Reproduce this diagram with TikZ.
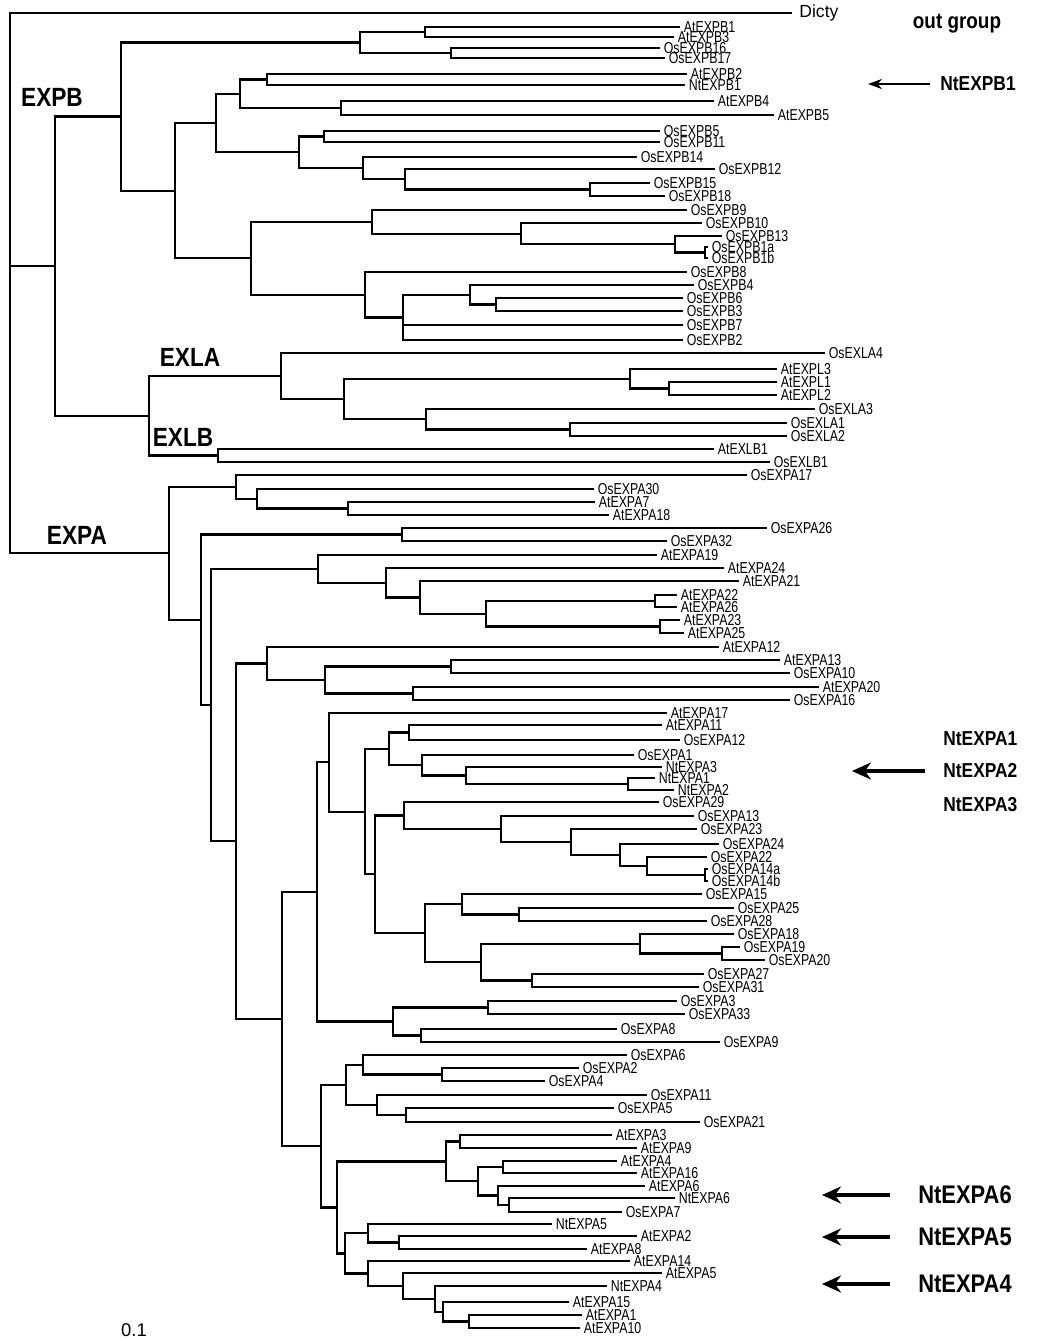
\documentclass[tikz,border=0pt]{standalone}
\usepackage{fontspec}
\setmainfont{Liberation Sans}
\newfontfamily\leaffont{Liberation Sans}[FakeStretch=0.78]
\newfontfamily\tagfont{Liberation Sans}[FakeStretch=0.86]
\usepackage{tikz}
\usetikzlibrary{arrows.meta}

\begin{document}
\begin{tikzpicture}[x=0.02cm, y=-0.02cm,
  br/.style={line width=1.25pt},
  leaf/.style={anchor=west, inner xsep=2pt, inner ysep=0pt, font={\leaffont\fontsize{9}{9}\selectfont}},
  clade/.style={inner sep=0pt, font={\tagfont\bfseries\fontsize{15}{17}\selectfont}},
  tag/.style={anchor=west, inner sep=0pt, font={\tagfont\bfseries\fontsize{11.5}{13}\selectfont}},
  bigtag/.style={anchor=west, inner sep=0pt, font={\tagfont\bfseries\fontsize{14.5}{16}\selectfont}},
  pointer/.style={line width=2.8pt, -{Stealth[length=0.38cm, width=0.34cm]}},
  thinpointer/.style={line width=1.4pt, -{Stealth[length=0.28cm, width=0.2cm]}}]
\useasboundingbox (0,0) rectangle (1051,1340);

% leaves
\node[leaf, font={\fontsize{10}{11}\selectfont}, inner xsep=4pt] (Dicty) at (792,13) {Dicty};
\node[leaf] (AtEXPB1) at (680,27) {AtEXPB1};
\node[leaf] (AtEXPB3) at (674,37) {AtEXPB3};
\node[leaf] (OsEXPB16) at (660,48) {OsEXPB16};
\node[leaf] (OsEXPB17) at (665,58) {OsEXPB17};
\node[leaf] (AtEXPB2) at (687,74) {AtEXPB2};
\node[leaf] (NtEXPB1) at (685,85) {NtEXPB1};
\node[leaf] (AtEXPB4) at (714,101) {AtEXPB4};
\node[leaf] (AtEXPB5) at (774,115) {AtEXPB5};
\node[leaf] (OsEXPB5) at (660,131) {OsEXPB5};
\node[leaf] (OsEXPB11) at (660,142) {OsEXPB11};
\node[leaf] (OsEXPB14) at (637,157) {OsEXPB14};
\node[leaf] (OsEXPB12) at (715,169) {OsEXPB12};
\node[leaf] (OsEXPB15) at (650,183) {OsEXPB15};
\node[leaf] (OsEXPB18) at (665,196) {OsEXPB18};
\node[leaf] (OsEXPB9) at (687,210) {OsEXPB9};
\node[leaf] (OsEXPB10) at (702,223) {OsEXPB10};
\node[leaf] (OsEXPB13) at (722,236) {OsEXPB13};
\node[leaf] (OsEXPB1a) at (708,247) {OsEXPB1a};
\node[leaf] (OsEXPB1b) at (708,258) {OsEXPB1b};
\node[leaf] (OsEXPB8) at (687,272) {OsEXPB8};
\node[leaf] (OsEXPB4) at (694,285) {OsEXPB4};
\node[leaf] (OsEXPB6) at (683,298) {OsEXPB6};
\node[leaf] (OsEXPB3) at (683,311) {OsEXPB3};
\node[leaf] (OsEXPB7) at (683,325) {OsEXPB7};
\node[leaf] (OsEXPB2) at (683,340) {OsEXPB2};
\node[leaf] (OsEXLA4) at (825,353) {OsEXLA4};
\node[leaf] (AtEXPL3) at (777,369) {AtEXPL3};
\node[leaf] (AtEXPL1) at (777,382) {AtEXPL1};
\node[leaf] (AtEXPL2) at (777,395) {AtEXPL2};
\node[leaf] (OsEXLA3) at (815,409) {OsEXLA3};
\node[leaf] (OsEXLA1) at (787,423) {OsEXLA1};
\node[leaf] (OsEXLA2) at (787,436) {OsEXLA2};
\node[leaf] (AtEXLB1) at (714,449) {AtEXLB1};
\node[leaf] (OsEXLB1) at (770,462) {OsEXLB1};
\node[leaf] (OsEXPA17) at (747,475) {OsEXPA17};
\node[leaf] (OsEXPA30) at (594,489) {OsEXPA30};
\node[leaf] (AtEXPA7) at (595,502) {AtEXPA7};
\node[leaf] (AtEXPA18) at (609,515) {AtEXPA18};
\node[leaf] (OsEXPA26) at (767,528) {OsEXPA26};
\node[leaf] (OsEXPA32) at (667,541) {OsEXPA32};
\node[leaf] (AtEXPA19) at (657,555) {AtEXPA19};
\node[leaf] (AtEXPA24) at (724,568) {AtEXPA24};
\node[leaf] (AtEXPA21) at (739,581) {AtEXPA21};
\node[leaf] (AtEXPA22) at (677,595) {AtEXPA22};
\node[leaf] (AtEXPA26) at (677,607) {AtEXPA26};
\node[leaf] (AtEXPA23) at (680,620) {AtEXPA23};
\node[leaf] (AtEXPA25) at (684,633) {AtEXPA25};
\node[leaf] (AtEXPA12) at (719,647) {AtEXPA12};
\node[leaf] (AtEXPA13) at (780,660) {AtEXPA13};
\node[leaf] (OsEXPA10) at (790,673) {OsEXPA10};
\node[leaf] (AtEXPA20) at (819,687) {AtEXPA20};
\node[leaf] (OsEXPA16) at (790,700) {OsEXPA16};
\node[leaf] (AtEXPA17) at (667,713) {AtEXPA17};
\node[leaf] (AtEXPA11) at (662,725) {AtEXPA11};
\node[leaf] (OsEXPA12) at (680,740) {OsEXPA12};
\node[leaf] (OsEXPA1) at (634,755) {OsEXPA1};
\node[leaf] (NtEXPA3) at (662,767) {NtEXPA3};
\node[leaf] (NtEXPA1) at (655,778) {NtEXPA1};
\node[leaf] (NtEXPA2) at (674,790) {NtEXPA2};
\node[leaf] (OsEXPA29) at (659,802) {OsEXPA29};
\node[leaf] (OsEXPA13) at (694,816) {OsEXPA13};
\node[leaf] (OsEXPA23) at (697,829) {OsEXPA23};
\node[leaf] (OsEXPA24) at (719,844) {OsEXPA24};
\node[leaf] (OsEXPA22) at (707,857) {OsEXPA22};
\node[leaf] (OsEXPA14a) at (708,869) {OsEXPA14a};
\node[leaf] (OsEXPA14b) at (708,881) {OsEXPA14b};
\node[leaf] (OsEXPA15) at (702,894) {OsEXPA15};
\node[leaf] (OsEXPA25) at (734,908) {OsEXPA25};
\node[leaf] (OsEXPA28) at (707,921) {OsEXPA28};
\node[leaf] (OsEXPA18) at (734,934) {OsEXPA18};
\node[leaf] (OsEXPA19) at (740,947) {OsEXPA19};
\node[leaf] (OsEXPA20) at (765,960) {OsEXPA20};
\node[leaf] (OsEXPA27) at (704,974) {OsEXPA27};
\node[leaf] (OsEXPA31) at (699,987) {OsEXPA31};
\node[leaf] (OsEXPA3) at (677,1001) {OsEXPA3};
\node[leaf] (OsEXPA33) at (685,1014) {OsEXPA33};
\node[leaf] (OsEXPA8) at (617,1029) {OsEXPA8};
\node[leaf] (OsEXPA9) at (720,1042) {OsEXPA9};
\node[leaf] (OsEXPA6) at (627,1055) {OsEXPA6};
\node[leaf] (OsEXPA2) at (579,1068) {OsEXPA2};
\node[leaf] (OsEXPA4) at (545,1081) {OsEXPA4};
\node[leaf] (OsEXPA11) at (647,1095) {OsEXPA11};
\node[leaf] (OsEXPA5) at (614,1108) {OsEXPA5};
\node[leaf] (OsEXPA21) at (700,1122) {OsEXPA21};
\node[leaf] (AtEXPA3) at (612,1135) {AtEXPA3};
\node[leaf] (AtEXPA9) at (637,1148) {AtEXPA9};
\node[leaf] (AtEXPA4) at (617,1161) {AtEXPA4};
\node[leaf] (AtEXPA16) at (637,1173) {AtEXPA16};
\node[leaf] (AtEXPA6) at (645,1186) {AtEXPA6};
\node[leaf] (NtEXPA6) at (675,1198) {NtEXPA6};
\node[leaf] (OsEXPA7) at (622,1212) {OsEXPA7};
\node[leaf] (NtEXPA5) at (552,1224) {NtEXPA5};
\node[leaf] (AtEXPA2) at (637,1236) {AtEXPA2};
\node[leaf] (AtEXPA8) at (587,1249) {AtEXPA8};
\node[leaf] (AtEXPA14) at (630,1261) {AtEXPA14};
\node[leaf] (AtEXPA5) at (662,1273) {AtEXPA5};
\node[leaf] (NtEXPA4) at (607,1286) {NtEXPA4};
\node[leaf] (AtEXPA15) at (569,1302) {AtEXPA15};
\node[leaf] (AtEXPA1) at (582,1315) {AtEXPA1};
\node[leaf] (AtEXPA10) at (580,1328) {AtEXPA10};

% branch points
\coordinate (root) at (10,283);
\coordinate (n55) at (55,266);
\coordinate (n121) at (121,116.5);
\coordinate (n360) at (360,42.5);
\coordinate (n425) at (425,32);
\coordinate (n451) at (451,53);
\coordinate (n175) at (175,190.6);
\coordinate (n216) at (216,123);
\coordinate (n240) at (240,93.75);
\coordinate (n267) at (267,79.5);
\coordinate (n341) at (341,108);
\coordinate (n299) at (299,152.3);
\coordinate (n324) at (324,136.5);
\coordinate (n363) at (363,168.1);
\coordinate (n405) at (405,179.25);
\coordinate (n590) at (590,189.5);
\coordinate (n251) at (251,258.2);
\coordinate (n372) at (372,221.8);
\coordinate (n521) at (521,233.6);
\coordinate (n675) at (675,244.25);
\coordinate (n705) at (705,252.5);
\coordinate (n365) at (365,294.7);
\coordinate (n403) at (403,317.4);
\coordinate (n470) at (470,294.75);
\coordinate (n496) at (496,304.5);
\coordinate (n149) at (149,415.75);
\coordinate (n281) at (281,376);
\coordinate (n344) at (344,399);
\coordinate (n630) at (630,378.75);
\coordinate (n669) at (669,388.5);
\coordinate (n426) at (426,419.25);
\coordinate (n570) at (570,429.5);
\coordinate (n218) at (218,455.5);
\coordinate (n169) at (169,553.3);
\coordinate (n236a) at (236,486.9);
\coordinate (n257) at (257,498.75);
\coordinate (n348) at (348,508.5);
\coordinate (n201) at (201,619.75);
\coordinate (n402) at (402,534.5);
\coordinate (n211) at (211,705);
\coordinate (n318) at (318,568.8);
\coordinate (n386) at (386,582.7);
\coordinate (n420) at (420,597.4);
\coordinate (n486) at (486,613.75);
\coordinate (n655) at (655,601);
\coordinate (n660) at (660,626.5);
\coordinate (n236) at (236,841.25);
\coordinate (n267b) at (267,663.5);
\coordinate (n325) at (325,680);
\coordinate (n451b) at (451,666.5);
\coordinate (n413) at (413,693.5);
\coordinate (n282) at (282,1019);
\coordinate (n317) at (317,891.9);
\coordinate (n329) at (329,762.3);
\coordinate (n365b) at (365,811.6);
\coordinate (n389) at (389,748.9);
\coordinate (n409) at (409,732.5);
\coordinate (n422) at (422,765.25);
\coordinate (n466) at (466,775.5);
\coordinate (n628) at (628,784);
\coordinate (n375) at (375,874.3);
\coordinate (n404) at (404,815.5);
\coordinate (n501) at (501,829);
\coordinate (n571) at (571,842);
\coordinate (n620) at (620,855);
\coordinate (n647) at (647,866);
\coordinate (n705b) at (705,875);
\coordinate (n425b) at (425,933.2);
\coordinate (n462) at (462,904.25);
\coordinate (n519) at (519,914.5);
\coordinate (n481) at (481,962.1);
\coordinate (n640) at (640,943.75);
\coordinate (n722) at (722,953.5);
\coordinate (n532) at (532,980.5);
\coordinate (n393) at (393,1021.5);
\coordinate (n488) at (488,1007.5);
\coordinate (n421) at (421,1035.5);
\coordinate (n321) at (321,1146.1);
\coordinate (n346) at (346,1084.9);
\coordinate (n363b) at (363,1064.75);
\coordinate (n442) at (442,1074.5);
\coordinate (n377) at (377,1105);
\coordinate (n406) at (406,1115);
\coordinate (n337) at (337,1207.4);
\coordinate (n446) at (446,1161.4);
\coordinate (n460) at (460,1141.5);
\coordinate (n478) at (478,1181.25);
\coordinate (n503) at (503,1167);
\coordinate (n498) at (498,1195.5);
\coordinate (n509) at (509,1205);
\coordinate (n345) at (345,1253.4);
\coordinate (n368) at (368,1233.25);
\coordinate (n399) at (399,1242.5);
\coordinate (n368b) at (368,1273.5);
\coordinate (n403b) at (403,1286);
\coordinate (n435) at (435,1298.9);
\coordinate (n443) at (443,1311.75);
\coordinate (n469) at (469,1321.5);

% branches
\draw[br] (root) |- (Dicty.west) (root) |- (n55) (root) |- (n169);
\draw[br] (n55) |- (n121) (n55) |- (n149);
\draw[br] (n121) |- (n360) (n121) |- (n175);
\draw[br] (n360) |- (n425) (n360) |- (n451);
\draw[br] (n425) |- (AtEXPB1.west) (n425) |- (AtEXPB3.west);
\draw[br] (n451) |- (OsEXPB16.west) (n451) |- (OsEXPB17.west);
\draw[br] (n175) |- (n216) (n175) |- (n251);
\draw[br] (n216) |- (n240) (n216) |- (n299);
\draw[br] (n240) |- (n267) (n240) |- (n341);
\draw[br] (n267) |- (AtEXPB2.west) (n267) |- (NtEXPB1.west);
\draw[br] (n341) |- (AtEXPB4.west) (n341) |- (AtEXPB5.west);
\draw[br] (n299) |- (n324) (n299) |- (n363);
\draw[br] (n324) |- (OsEXPB5.west) (n324) |- (OsEXPB11.west);
\draw[br] (n363) |- (OsEXPB14.west) (n363) |- (n405);
\draw[br] (n405) |- (OsEXPB12.west) (n405) |- (n590);
\draw[br] (n590) |- (OsEXPB15.west) (n590) |- (OsEXPB18.west);
\draw[br] (n251) |- (n372) (n251) |- (n365);
\draw[br] (n372) |- (OsEXPB9.west) (n372) |- (n521);
\draw[br] (n521) |- (OsEXPB10.west) (n521) |- (n675);
\draw[br] (n675) |- (OsEXPB13.west) (n675) |- (n705);
\draw[br] (n705) |- (OsEXPB1a.west) (n705) |- (OsEXPB1b.west);
\draw[br] (n365) |- (OsEXPB8.west) (n365) |- (n403);
\draw[br] (n403) |- (n470) (n403) |- (OsEXPB7.west) (n403) |- (OsEXPB2.west);
\draw[br] (n470) |- (OsEXPB4.west) (n470) |- (n496);
\draw[br] (n496) |- (OsEXPB6.west) (n496) |- (OsEXPB3.west);
\draw[br] (n149) |- (n281) (n149) |- (n218);
\draw[br] (n281) |- (OsEXLA4.west) (n281) |- (n344);
\draw[br] (n344) |- (n630) (n344) |- (n426);
\draw[br] (n630) |- (AtEXPL3.west) (n630) |- (n669);
\draw[br] (n669) |- (AtEXPL1.west) (n669) |- (AtEXPL2.west);
\draw[br] (n426) |- (OsEXLA3.west) (n426) |- (n570);
\draw[br] (n570) |- (OsEXLA1.west) (n570) |- (OsEXLA2.west);
\draw[br] (n218) |- (AtEXLB1.west) (n218) |- (OsEXLB1.west);
\draw[br] (n169) |- (n236a) (n169) |- (n201);
\draw[br] (n236a) |- (OsEXPA17.west) (n236a) |- (n257);
\draw[br] (n257) |- (OsEXPA30.west) (n257) |- (n348);
\draw[br] (n348) |- (AtEXPA7.west) (n348) |- (AtEXPA18.west);
\draw[br] (n201) |- (n402) (n201) |- (n211);
\draw[br] (n402) |- (OsEXPA26.west) (n402) |- (OsEXPA32.west);
\draw[br] (n211) |- (n318) (n211) |- (n236);
\draw[br] (n318) |- (AtEXPA19.west) (n318) |- (n386);
\draw[br] (n386) |- (AtEXPA24.west) (n386) |- (n420);
\draw[br] (n420) |- (AtEXPA21.west) (n420) |- (n486);
\draw[br] (n486) |- (n655) (n486) |- (n660);
\draw[br] (n655) |- (AtEXPA22.west) (n655) |- (AtEXPA26.west);
\draw[br] (n660) |- (AtEXPA23.west) (n660) |- (AtEXPA25.west);
\draw[br] (n236) |- (n267b) (n236) |- (n282);
\draw[br] (n267b) |- (AtEXPA12.west) (n267b) |- (n325);
\draw[br] (n325) |- (n451b) (n325) |- (n413);
\draw[br] (n451b) |- (AtEXPA13.west) (n451b) |- (OsEXPA10.west);
\draw[br] (n413) |- (AtEXPA20.west) (n413) |- (OsEXPA16.west);
\draw[br] (n282) |- (n317) (n282) |- (n321);
\draw[br] (n317) |- (n329) (n317) |- (n393);
\draw[br] (n329) |- (AtEXPA17.west) (n329) |- (n365b);
\draw[br] (n365b) |- (n389) (n365b) |- (n375);
\draw[br] (n389) |- (n409) (n389) |- (n422);
\draw[br] (n409) |- (AtEXPA11.west) (n409) |- (OsEXPA12.west);
\draw[br] (n422) |- (OsEXPA1.west) (n422) |- (n466);
\draw[br] (n466) |- (NtEXPA3.west) (n466) |- (n628);
\draw[br] (n628) |- (NtEXPA1.west) (n628) |- (NtEXPA2.west);
\draw[br] (n375) |- (n404) (n375) |- (n425b);
\draw[br] (n404) |- (OsEXPA29.west) (n404) |- (n501);
\draw[br] (n501) |- (OsEXPA13.west) (n501) |- (n571);
\draw[br] (n571) |- (OsEXPA23.west) (n571) |- (n620);
\draw[br] (n620) |- (OsEXPA24.west) (n620) |- (n647);
\draw[br] (n647) |- (OsEXPA22.west) (n647) |- (n705b);
\draw[br] (n705b) |- (OsEXPA14a.west) (n705b) |- (OsEXPA14b.west);
\draw[br] (n425b) |- (n462) (n425b) |- (n481);
\draw[br] (n462) |- (OsEXPA15.west) (n462) |- (n519);
\draw[br] (n519) |- (OsEXPA25.west) (n519) |- (OsEXPA28.west);
\draw[br] (n481) |- (n640) (n481) |- (n532);
\draw[br] (n640) |- (OsEXPA18.west) (n640) |- (n722);
\draw[br] (n722) |- (OsEXPA19.west) (n722) |- (OsEXPA20.west);
\draw[br] (n532) |- (OsEXPA27.west) (n532) |- (OsEXPA31.west);
\draw[br] (n393) |- (n488) (n393) |- (n421);
\draw[br] (n488) |- (OsEXPA3.west) (n488) |- (OsEXPA33.west);
\draw[br] (n421) |- (OsEXPA8.west) (n421) |- (OsEXPA9.west);
\draw[br] (n321) |- (n346) (n321) |- (n337);
\draw[br] (n346) |- (n363b) (n346) |- (n377);
\draw[br] (n363b) |- (OsEXPA6.west) (n363b) |- (n442);
\draw[br] (n442) |- (OsEXPA2.west) (n442) |- (OsEXPA4.west);
\draw[br] (n377) |- (OsEXPA11.west) (n377) |- (n406);
\draw[br] (n406) |- (OsEXPA5.west) (n406) |- (OsEXPA21.west);
\draw[br] (n337) |- (n446) (n337) |- (n345);
\draw[br] (n446) |- (n460) (n446) |- (n478);
\draw[br] (n460) |- (AtEXPA3.west) (n460) |- (AtEXPA9.west);
\draw[br] (n478) |- (n503) (n478) |- (n498);
\draw[br] (n503) |- (AtEXPA4.west) (n503) |- (AtEXPA16.west);
\draw[br] (n498) |- (AtEXPA6.west) (n498) |- (n509);
\draw[br] (n509) |- (NtEXPA6.west) (n509) |- (OsEXPA7.west);
\draw[br] (n345) |- (n368) (n345) |- (n368b);
\draw[br] (n368) |- (NtEXPA5.west) (n368) |- (n399);
\draw[br] (n399) |- (AtEXPA2.west) (n399) |- (AtEXPA8.west);
\draw[br] (n368b) |- (AtEXPA14.west) (n368b) |- (n403b);
\draw[br] (n403b) |- (AtEXPA5.west) (n403b) |- (n435);
\draw[br] (n435) |- (NtEXPA4.west) (n435) |- (n443);
\draw[br] (n443) |- (AtEXPA15.west) (n443) |- (n469);
\draw[br] (n469) |- (AtEXPA1.west) (n469) |- (AtEXPA10.west);

% clade names
\node[clade] (lEXPB) at (52,97) {EXPB};
\node[clade] (lEXLA) at (190,357) {EXLA};
\node[clade] (lEXLB) at (183,437) {EXLB};
\node[clade] (lEXPA) at (77,535) {EXPA};

% tobacco genes
\node[anchor=center, font={\tagfont\bfseries\fontsize{12.5}{14}\selectfont}] (outg) at (957,24) {out group};
\node[tag] (tagB1) at (940,84) {NtEXPB1};
\coordinate (ptB1) at (868,84);
\draw[thinpointer] ([xshift=-0.2cm]tagB1.west) -- (ptB1);
\node[tag] (tagA1) at (943,739) {NtEXPA1};
\node[tag] (tagA2) at (943,771) {NtEXPA2};
\node[tag] (tagA3) at (943,805) {NtEXPA3};
\coordinate (ptA2) at (852,771);
\draw[pointer] ([xshift=-0.36cm]tagA2.west) -- (ptA2);
\node[bigtag] (tagA6) at (918,1195) {NtEXPA6};
\coordinate (ptA6) at (822,1195);
\draw[pointer] ([xshift=-0.56cm]tagA6.west) -- (ptA6);
\node[bigtag] (tagA5) at (918,1237) {NtEXPA5};
\coordinate (ptA5) at (822,1237);
\draw[pointer] ([xshift=-0.56cm]tagA5.west) -- (ptA5);
\node[bigtag] (tagA4) at (918,1284) {NtEXPA4};
\coordinate (ptA4) at (822,1284);
\draw[pointer] ([xshift=-0.56cm]tagA4.west) -- (ptA4);

\node[font={\fontsize{10.5}{12}\selectfont}] (scale) at (134,1330) {0.1};
\end{tikzpicture}
\end{document}
